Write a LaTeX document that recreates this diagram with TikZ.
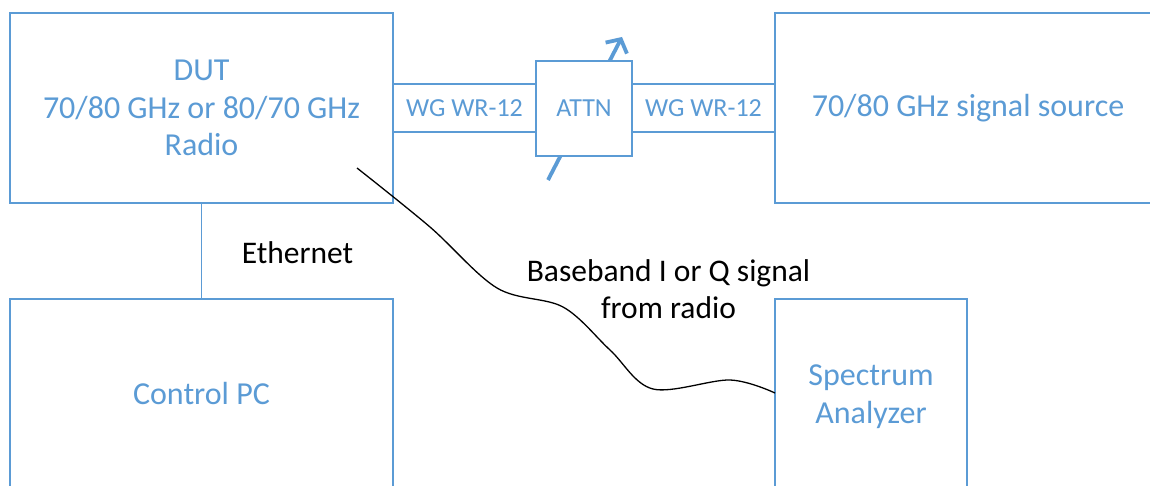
\documentclass[tikz,border=0pt]{standalone}
\usepackage{fontspec}
\setmainfont{Carlito}
\usetikzlibrary{arrows.meta}
\definecolor{accent}{HTML}{5B9BD5}
\tikzset{
  blk/.style={draw=accent, line width=1.3pt, fill=white, text=accent, inner sep=0pt,
    align=center, font=\fontsize{32}{37.5}\selectfont},
  wgbox/.style={blk, font=\fontsize{26}{31}\selectfont},
  conn/.style={draw=accent, line width=1.4pt},
  cable/.style={draw=black, line width=1.3pt},
  tune/.style={draw=accent, line width=3.8pt, -{Straight Barb[length=10pt,width=24pt,line width=3.8pt]}},
  lbl/.style={text=black, align=center, font=\fontsize{31.5}{37.5}\selectfont, inner sep=0pt}
}
\begin{document}
\begin{tikzpicture}[x=1pt,y=-1pt]
\useasboundingbox (0,0) rectangle (1150,486);
\clip (0,0) rectangle (1150,486);
\fill[white] (0,0) rectangle (1150,486);
% main boxes
\node[blk, minimum width=383pt, minimum height=190pt] (dut) at (201.5,108)
  {DUT\\70/80 GHz or 80/70 GHz\\Radio};
\node[blk, minimum width=386pt, minimum height=190pt] (src) at (968,108)
  {70/80 GHz signal source};
\node[blk, minimum width=383pt, minimum height=189pt] (pc) at (201.5,393.5)
  {Control PC};
\node[blk, minimum width=192pt, minimum height=195pt] (sa) at (871,396.5)
  {Spectrum\\Analyzer};
% waveguides
\node[wgbox, minimum width=143pt, minimum height=48pt] (wg1) at (464.5,108) {WG WR-12};
\node[wgbox, minimum width=143pt, minimum height=48pt] (wg2) at (703.5,108) {WG WR-12};
% variable attenuator arrow (behind box)
\coordinate (tlo) at (548,180);
\coordinate (thi) at (622,37);
\draw[tune] (tlo) -- (thi);
\node[wgbox, minimum width=96pt, minimum height=95pt] (attn) at (584,108.5) {ATTN};
% ethernet
\draw[conn] (dut.south) -- (pc.north);
\node[lbl, anchor=base] (eth) at (297.5,263) {Ethernet};
% baseband cable
\coordinate (bbs) at (357,168);
\coordinate (bbe) at (775,393);
\draw[cable] plot[smooth, tension=0.55] coordinates {(bbs) (430,227) (497,288) (563,307) (610,350) (653,389) (730,380) (bbe)};
\node[lbl] (bbl) at (668.5,289) {Baseband I or Q signal\\from radio};
\end{tikzpicture}
\end{document}
